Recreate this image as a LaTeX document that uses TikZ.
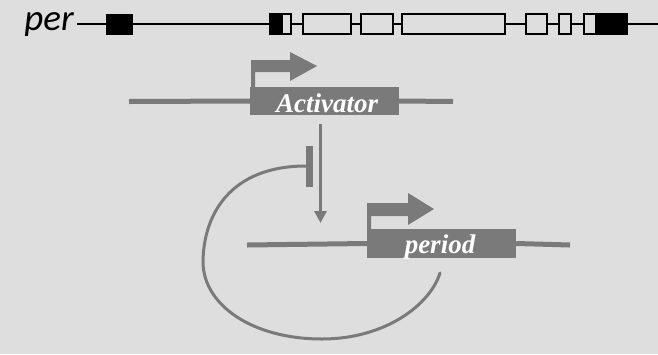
\documentclass[tikz,border=0pt]{standalone}
\usepackage{fontspec}
\setmainfont{Liberation Serif}
\newfontfamily\genefont{Carlito}
\usetikzlibrary{arrows.meta}
\definecolor{bg}{RGB}{222,222,222}
\definecolor{ink}{RGB}{122,122,122}
\tikzset{
  exon/.style={draw=black, line width=1.4pt, fill=bg},
  coding/.style={fill=black},
  intron/.style={draw=black, line width=1.4pt},
  genebox/.style={fill=ink, inner sep=0pt},
  genetext/.style={text=white, font=\fontsize{27}{27}\selectfont\bfseries\itshape, inner sep=0pt},
  dna/.style={draw=ink, line width=5pt},
  promoter/.style={fill=ink},
  regline/.style={draw=ink, line width=3pt},
}
\begin{document}
\begin{tikzpicture}[x=1pt,y=-1pt]
  \fill[bg] (0,0) rectangle (658,354);
  \useasboundingbox (0,0) rectangle (658,354);

  % gene structure
  \node[anchor=base east, inner sep=0pt, font=\genefont\fontsize{37}{37}\selectfont\itshape] (per) at (74,30) {per};
  \coordinate (gstart) at (77,24);
  \coordinate (gend) at (658,24);
  \draw[intron] (gstart) -- (gend);
  % exons, left to right
  \fill[coding] (106,13.5) rectangle (133,34.5);
  \draw[exon] (270,14) rectangle (291,34);
  \fill[coding] (270,14) rectangle (283,34);
  \draw[exon] (303,14) rectangle (351,34);
  \draw[exon] (361,14) rectangle (393,34);
  \draw[exon] (402,14) rectangle (505,34);
  \draw[exon] (526,14) rectangle (547,34);
  \draw[exon] (559,14) rectangle (571,34);
  \draw[exon] (584,14) rectangle (627,34);
  \fill[coding] (595,14) rectangle (627,34);
  \draw[black, line width=1.4pt] (584,14) rectangle (627,34);

  % activator gene
  \node[genebox, minimum width=149pt, minimum height=28pt] (act) at (324.5,101) {};
  \node[genetext, anchor=base] (actlbl) at (327,112) {Activator};
  \coordinate (actL) at (129,101.5);
  \coordinate (actR) at (453,101.5);
  \draw[dna] (actL) -- (act.west);
  \draw[dna] (act.east) -- (actR);
  \fill[promoter] (251,87) -- (251,60) -- (290,60) -- (290,52) -- (317,66)
    -- (290,81) -- (290,72) -- (255,72) -- (255,87) -- cycle;

  % period gene
  \node[genebox, minimum width=149pt, minimum height=29pt] (per2) at (441.5,243.5) {};
  \node[genetext, anchor=base] (perlbl) at (440,253) {period};
  \coordinate (perL) at (247,245);
  \coordinate (perR) at (570,245);
  \draw[dna] (perL) -- (per2.west);
  \draw[dna] (per2.east) -- (perR);
  \fill[promoter] (367,229) -- (367,203) -- (408,203) -- (408,193) -- (434,209)
    -- (408,225) -- (408,216) -- (371,216) -- (371,229) -- cycle;

  % activation of period
  \coordinate (actout) at (320.5,124);
  \coordinate (acttarget) at (320.5,223);
  \draw[regline, -{Triangle[length=12pt,width=12pt]}] (actout) -- (acttarget);

  % feedback repression by PER
  \coordinate (barTop) at (309.5,146);
  \coordinate (barBot) at (309.5,187);
  \draw[draw=ink, line width=7pt] (barTop) -- (barBot);
  \coordinate (fbstart) at (440,273);
  \coordinate (fbend) at (306,166);
  \draw[regline, line cap=round] (fbstart)
    .. controls (430,305) and (385,339) .. (322,339)
    .. controls (252,339) and (204,305) .. (203,263)
    .. controls (203,215) and (230,166) .. (fbend);
\end{tikzpicture}
\end{document}
